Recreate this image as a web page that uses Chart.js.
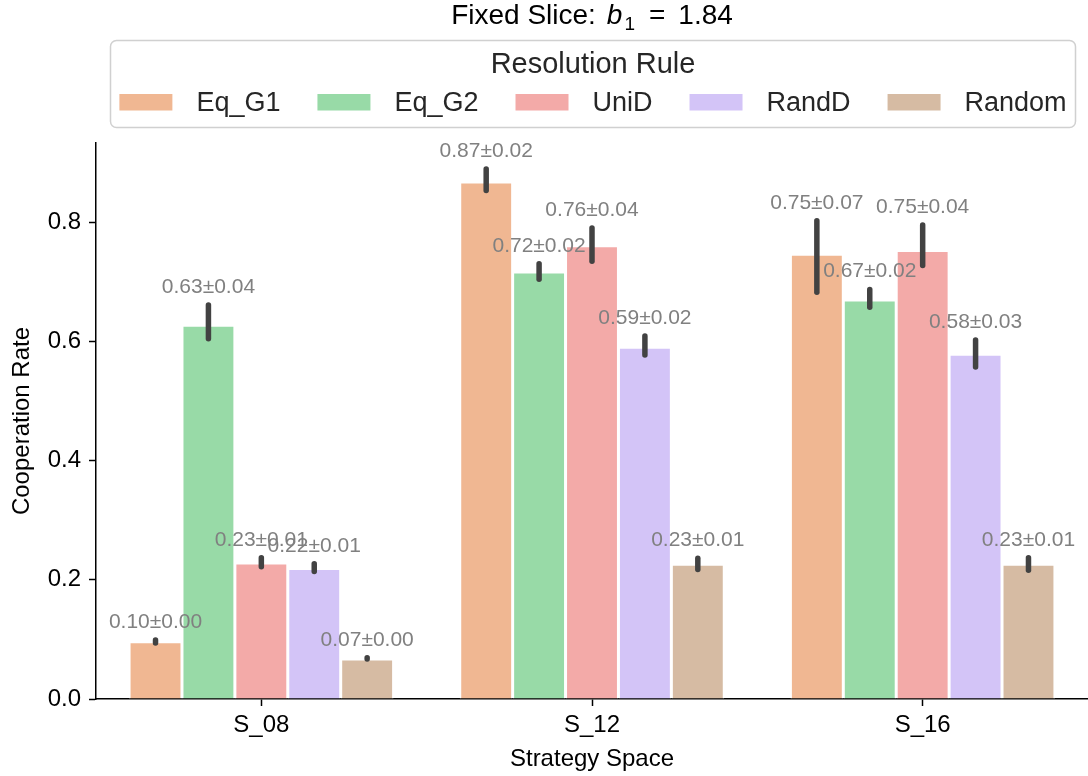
<!DOCTYPE html>
<html><head><meta charset="utf-8">
<script src="https://cdn.jsdelivr.net/npm/chart.js@4.4.0/dist/chart.umd.min.js"></script>
<style>html,body{margin:0;padding:0;background:#fff;}#wrap{width:1088px;height:776px;}</style>
</head><body><div id="wrap"><canvas id="c" width="1088" height="776"></canvas></div>
<script>
// ---- data ----
const categories = ['S_08', 'S_12', 'S_16'];
const seriesNames = ['Eq_G1', 'Eq_G2', 'UniD', 'RandD', 'Random'];
const seriesColors = ['#F0B792', '#98DAA7', '#F3AAA8', '#D3C4F7', '#D6BBA3'];

const eqG1Mean = [0.096, 0.867, 0.746];
const eqG2Mean = [0.627, 0.716, 0.669];
const uniDMean = [0.228, 0.760, 0.752];
const randDMean = [0.219, 0.590, 0.578];
const randomMean = [0.067, 0.226, 0.226];

const eqG1Std = [0.00, 0.02, 0.07];
const eqG2Std = [0.04, 0.02, 0.02];
const uniDStd = [0.01, 0.04, 0.04];
const randDStd = [0.01, 0.02, 0.03];
const randomStd = [0.00, 0.01, 0.01];

const eqG1CiLow = [0.094, 0.853, 0.682];
const eqG1CiHigh = [0.099, 0.889, 0.802];
const eqG2CiLow = [0.604, 0.704, 0.657];
const eqG2CiHigh = [0.661, 0.730, 0.687];
const uniDCiLow = [0.222, 0.734, 0.727];
const uniDCiHigh = [0.237, 0.790, 0.795];
const randDCiLow = [0.214, 0.577, 0.557];
const randDCiHigh = [0.227, 0.609, 0.602];
const randomCiLow = [0.067, 0.217, 0.216];
const randomCiHigh = [0.069, 0.236, 0.237];

const yTickStep = 0.2;
const yMax = 0.9325;

const means = [eqG1Mean, eqG2Mean, uniDMean, randDMean, randomMean];
const stds = [eqG1Std, eqG2Std, uniDStd, randDStd, randomStd];
const ciLows = [eqG1CiLow, eqG2CiLow, uniDCiLow, randDCiLow, randomCiLow];
const ciHighs = [eqG1CiHigh, eqG2CiHigh, uniDCiHigh, randDCiHigh, randomCiHigh];

const FONT = '"Liberation Sans", Arial, Helvetica, sans-serif';

// ---- plugins ----
const errorBarPlugin = {
  id: 'errorBars',
  afterDatasetsDraw(chart) {
    const ctx = chart.ctx;
    const y = chart.scales.y;
    ctx.save();
    ctx.strokeStyle = '#424242';
    ctx.lineWidth = 5.5;
    ctx.lineCap = 'round';
    chart.data.datasets.forEach((ds, i) => {
      const meta = chart.getDatasetMeta(i);
      meta.data.forEach((bar, j) => {
        const lo = y.getPixelForValue(ciLows[i][j]);
        const hi = y.getPixelForValue(ciHighs[i][j]);
        ctx.beginPath();
        ctx.moveTo(bar.x, lo);
        ctx.lineTo(bar.x, Math.min(hi, lo - 0.5));
        ctx.stroke();
      });
    });
    // value labels
    ctx.fillStyle = '#808080';
    ctx.font = '21px ' + FONT;
    ctx.textAlign = 'center';
    ctx.textBaseline = 'alphabetic';
    chart.data.datasets.forEach((ds, i) => {
      const meta = chart.getDatasetMeta(i);
      meta.data.forEach((bar, j) => {
        const hi = y.getPixelForValue(ciHighs[i][j]);
        const txt = means[i][j].toFixed(2) + '\u00b1' + stds[i][j].toFixed(2);
        ctx.fillText(txt, bar.x, hi - 12);
      });
    });
    ctx.restore();
  }
};

const headerPlugin = {
  id: 'header',
  afterDraw(chart) {
    const ctx = chart.ctx;
    const area = chart.chartArea;
    const cx = (area.left + area.right) / 2;
    ctx.save();
    // ---- title: Fixed Slice: b_1 = 1.84 ----
    const base = 23.5;
    const fMain = '28px ' + FONT;
    const fIt = 'italic 28px ' + FONT;
    const fSub = '19px ' + FONT;
    const pieces = [
      {t: 'Fixed Slice:', f: fMain, dy: 0, gapAfter: 11},
      {t: 'b', f: fIt, dy: 0, gapAfter: 2},
      {t: '1', f: fSub, dy: 6, gapAfter: 14},
      {t: '=', f: fMain, dy: 0, gapAfter: 13},
      {t: '1.84', f: fMain, dy: 0, gapAfter: 0}
    ];
    let total = 0;
    pieces.forEach(p => { ctx.font = p.f; p.w = ctx.measureText(p.t).width; total += p.w + p.gapAfter; });
    let x = cx - total / 2;
    ctx.fillStyle = '#000';
    ctx.textAlign = 'left';
    ctx.textBaseline = 'alphabetic';
    pieces.forEach(p => { ctx.font = p.f; ctx.fillText(p.t, x, base + p.dy); x += p.w + p.gapAfter; });

    // ---- legend box ----
    const bx = 110.5, by = 40.5, bw = 965, bh = 87, r = 6;
    ctx.beginPath();
    ctx.moveTo(bx + r, by);
    ctx.lineTo(bx + bw - r, by);
    ctx.arcTo(bx + bw, by, bx + bw, by + r, r);
    ctx.lineTo(bx + bw, by + bh - r);
    ctx.arcTo(bx + bw, by + bh, bx + bw - r, by + bh, r);
    ctx.lineTo(bx + r, by + bh);
    ctx.arcTo(bx, by + bh, bx, by + bh - r, r);
    ctx.lineTo(bx, by + r);
    ctx.arcTo(bx, by, bx + r, by, r);
    ctx.closePath();
    ctx.fillStyle = 'rgba(255,255,255,0.8)';
    ctx.fill();
    ctx.strokeStyle = '#d0d0d0';
    ctx.lineWidth = 1.5;
    ctx.stroke();
    const lcx = bx + bw / 2;
    ctx.fillStyle = '#262626';
    ctx.font = '29px ' + FONT;
    ctx.textAlign = 'center';
    ctx.fillText('Resolution Rule', lcx, 73);
    // items
    ctx.font = '27px ' + FONT;
    ctx.textAlign = 'left';
    const sw = 53, sh = 16.5, gapT = 24, gapI = 37;
    const widths = seriesNames.map(n => ctx.measureText(n).width);
    let tot = 0;
    widths.forEach((w, i) => { tot += sw + gapT + w + (i < widths.length - 1 ? gapI : 0); });
    let lx = lcx - tot / 2;
    seriesNames.forEach((n, i) => {
      ctx.fillStyle = seriesColors[i];
      ctx.fillRect(lx, 94, sw, sh);
      ctx.fillStyle = '#262626';
      ctx.fillText(n, lx + sw + gapT, 111);
      lx += sw + gapT + widths[i] + gapI;
    });
    ctx.restore();
  }
};

// ---- chart ----
const datasets = seriesNames.map((name, i) => ({
  label: name,
  data: means[i],
  backgroundColor: seriesColors[i],
  borderColor: '#ffffff',
  borderWidth: 1.5,
  borderSkipped: 'start',
  categoryPercentage: 0.8,
  barPercentage: 1.0
}));

new Chart(document.getElementById('c'), {
  type: 'bar',
  data: { labels: categories, datasets },
  options: {
    responsive: false,
    animation: false,
    devicePixelRatio: 1,
    layout: { padding: { top: 143, left: 0, right: 0, bottom: 0 } },
    plugins: { legend: { display: false }, title: { display: false }, tooltip: { enabled: false } },
    scales: {
      x: {
        offset: true,
        grid: { offset: false, drawOnChartArea: false, drawTicks: true, tickLength: 7, tickColor: '#000', tickWidth: 1.5 },
        border: { display: true, color: '#000', width: 1.5 },
        ticks: { color: '#000', font: { family: FONT, size: 24 }, padding: 5, maxRotation: 0 },
        title: { display: true, text: 'Strategy Space', color: '#000', font: { family: FONT, size: 24 }, padding: { top: 0, bottom: 2 } },
        afterFit: s => { s.height = 77; }
      },
      y: {
        min: 0, max: yMax,
        grid: { drawOnChartArea: false, drawTicks: true, tickLength: 7, tickColor: '#000', tickWidth: 1.5 },
        border: { display: true, color: '#000', width: 1.5 },
        ticks: { stepSize: yTickStep, includeBounds: false, color: '#000', font: { family: FONT, size: 24 }, padding: 8,
                 callback: v => Number(v).toFixed(1) },
        title: { display: true, text: 'Cooperation Rate', color: '#000', font: { family: FONT, size: 24 }, padding: { top: 8, bottom: 0 } },
        afterFit: s => { s.width = 96; }
      }
    }
  },
  plugins: [errorBarPlugin, headerPlugin]
});
</script>
</body></html>
